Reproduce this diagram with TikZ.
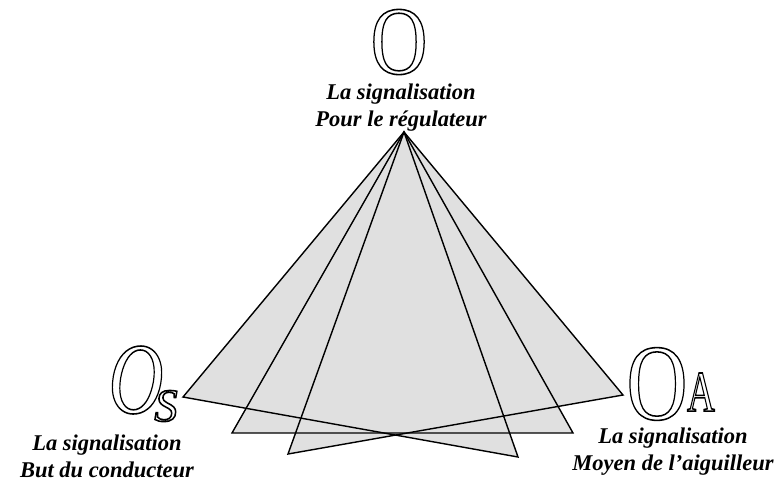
\documentclass[tikz,border=0pt]{standalone}
\usepackage{fontspec}
\setmainfont{Liberation Serif}
\usetikzlibrary{positioning}
\definecolor{grisecran}{RGB}{224,224,224}
\newcommand{\creuse}[1]{\special{pdf:literal direct 1 Tr 1.1 w}#1\special{pdf:literal direct 0 Tr}}

\begin{document}
\begin{tikzpicture}[x=0.025cm,y=-0.025cm,line join=miter,
  trait/.style={line width=1pt},
  etiquette/.style={font=\fontsize{16}{18.5}\selectfont\bfseries\itshape,align=center,inner sep=0pt},
  lettre/.style={inner sep=0pt}]
\useasboundingbox (0,0) rectangle (782,483);
% sommets des trois triangles
\coordinate (apex) at (404,132);
\coordinate (coinS) at (183,397);
\coordinate (coinA) at (623,395);
\coordinate (basD) at (518,457);
\coordinate (basG) at (288,454);
\coordinate (milG) at (232,433);
\coordinate (milD) at (573,433);
\fill[grisecran] (apex)--(coinS)--(basD)--cycle;
\fill[grisecran] (apex)--(coinA)--(basG)--cycle;
\fill[grisecran] (apex)--(milG)--(milD)--cycle;
\draw[trait] (apex)--(coinS)--(basD)--cycle;
\draw[trait] (apex)--(coinA)--(basG)--cycle;
\draw[trait] (apex)--(milG)--(milD)--cycle;
% les trois objets et leurs textes
\node[etiquette,anchor=base] (regul) at (401,126) {La signalisation\\Pour le régulateur};
\node[etiquette,anchor=base] (conduc) at (107,477) {La signalisation\\But du conducteur};
\node[etiquette,anchor=base] (aiguil) at (673,470) {La signalisation\\Moyen de l’aiguilleur};
\node[lettre,font=\fontsize{69}{69}\selectfont,xscale=.81] (O) at (399,42) {\creuse{O}};
\node[lettre,font=\fontsize{72}{72}\selectfont\itshape,xscale=.75] (Os) at (136,380) {\creuse{O}};
\node[lettre,font=\fontsize{33}{33}\selectfont\itshape] (S) at (166,406) {\creuse{S}};
\node[lettre,font=\fontsize{77}{77}\selectfont,xscale=.78] (Oa) at (657,384) {\creuse{O}};
\node[lettre,font=\fontsize{41}{41}\selectfont,xscale=.67] (A) at (701,392) {\creuse{A}};
\end{tikzpicture}
\end{document}
